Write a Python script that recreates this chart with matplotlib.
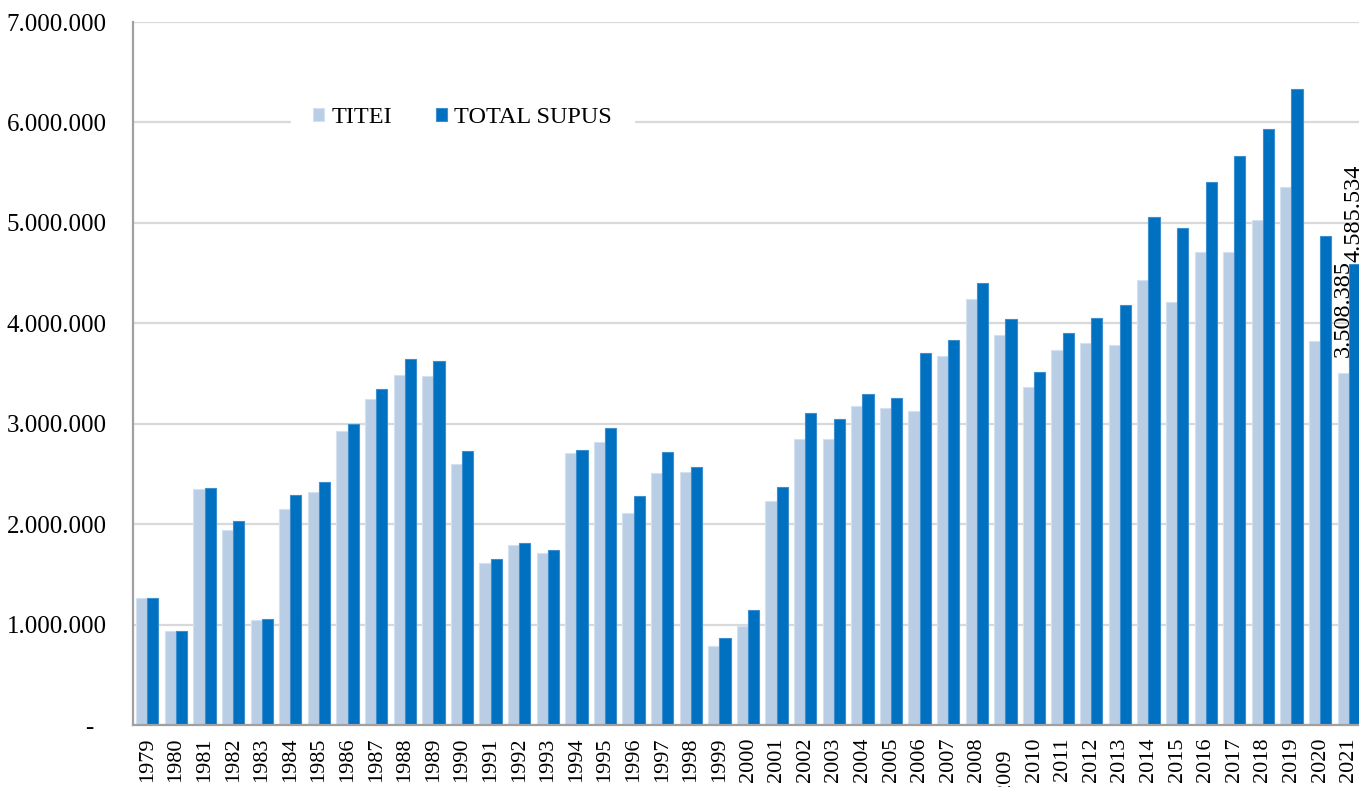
import matplotlib
matplotlib.use("Agg")
import matplotlib.pyplot as plt
import matplotlib.transforms as mtransforms
import numpy as np

years = [str(y) for y in range(1979, 2022)]
titei = [1.265, 0.935, 2.35, 1.94, 1.05, 2.15, 2.32, 2.93, 3.25, 3.49, 3.48, 2.60,
         1.61, 1.79, 1.71, 2.71, 2.82, 2.11, 2.51, 2.52, 0.79, 0.99, 2.23, 2.85,
         2.85, 3.18, 3.16, 3.13, 3.67, 4.24, 3.88, 3.37, 3.73, 3.80, 3.78, 4.43,
         4.21, 4.71, 4.71, 5.03, 5.36, 3.82, 3.508385]
total_supus = [1.265, 0.935, 2.36, 2.03, 1.06, 2.29, 2.42, 3.00, 3.35, 3.64, 3.62, 2.73,
               1.65, 1.81, 1.74, 2.74, 2.96, 2.28, 2.72, 2.57, 0.87, 1.15, 2.37, 3.11,
               3.05, 3.30, 3.26, 3.70, 3.83, 4.40, 4.04, 3.51, 3.90, 4.05, 4.18, 5.06,
               4.95, 5.41, 5.67, 5.93, 6.33, 4.87, 4.585534]
titei = [v * 1e6 for v in titei]
total_supus = [v * 1e6 for v in total_supus]
series_names = ["TITEI", "TOTAL SUPUS"]
label_2021 = ["3.508.385", "4.585.534"]
yticks = [0, 1e6, 2e6, 3e6, 4e6, 5e6, 6e6, 7e6]
ytick_labels = ["-  ", "1.000.000", "2.000.000", "3.000.000", "4.000.000",
                "5.000.000", "6.000.000", "7.000.000"]

plt.rcParams['font.family'] = ['Liberation Serif', 'DejaVu Serif']

fig = plt.figure(figsize=(13.59, 7.87), dpi=100)
ax = fig.add_axes([133 / 1359, (787 - 725) / 787, (1363 - 133) / 1359, (725 - 22) / 787])

x = np.arange(len(years))
w = 0.39
light = "#B9CDE5"
dark = "#0070C0"
ax.bar(x - w / 2, titei, width=w, color=light, edgecolor="#D4E1F0", linewidth=0.8,
       label=series_names[0], zorder=3)
ax.bar(x + w / 2, total_supus, width=w, color=dark, edgecolor="#3D8FD0", linewidth=0.8,
       label=series_names[1], zorder=3)

ax.set_xlim(-0.5, len(years) - 0.5)
ax.set_ylim(0, 7e6)
ax.set_yticks(yticks)
ax.set_yticklabels(ytick_labels, fontsize=18)
ax.set_xticks(x)
ax.set_xticklabels(years, rotation=90, fontsize=16)
ax.tick_params(axis='y', length=0, pad=19)
ax.tick_params(axis='x', length=0, pad=9)
ax.yaxis.grid(True, color="#D9D9D9", linewidth=1.6, zorder=0)
ax.set_axisbelow(True)
for s in ["top", "right"]:
    ax.spines[s].set_visible(False)
for s in ["left", "bottom"]:
    ax.spines[s].set_color("#A0A0A0")
    ax.spines[s].set_linewidth(1.6)
    ax.spines[s].set_zorder(4)

# 2009 label offset as in reference
lbl = ax.get_xticklabels()[years.index("2009")]
lbl.set_transform(lbl.get_transform() + mtransforms.ScaledTranslation(0, -12 / 100, fig.dpi_scale_trans))

# data labels for 2021
i = len(years) - 1
ax.annotate(label_2021[0], (x[i] - w / 2, titei[i]), xytext=(0, 11), textcoords="offset points",
            rotation=90, ha="center", va="bottom", fontsize=17.5, zorder=5)
ax.annotate(label_2021[1], (x[i] + w / 2, total_supus[i]), xytext=(0, 2), textcoords="offset points",
            rotation=90, ha="center", va="bottom", fontsize=17.5, zorder=5)

leg = ax.legend(loc="upper left", bbox_to_anchor=((306 - 133) / 1230, (725 - 100) / 703),
                ncol=2, frameon=True, fontsize=17.5, handlelength=0.45, handleheight=0.45,
                handletextpad=0.3, columnspacing=1.8, borderpad=0.3, borderaxespad=0)
leg.get_frame().set_edgecolor("white")
leg.get_frame().set_facecolor("white")
leg.get_frame().set_alpha(1)
leg.get_frame().set_boxstyle("square", pad=0.6)
leg.set_zorder(5)

fig.savefig("out.png", dpi=100)
